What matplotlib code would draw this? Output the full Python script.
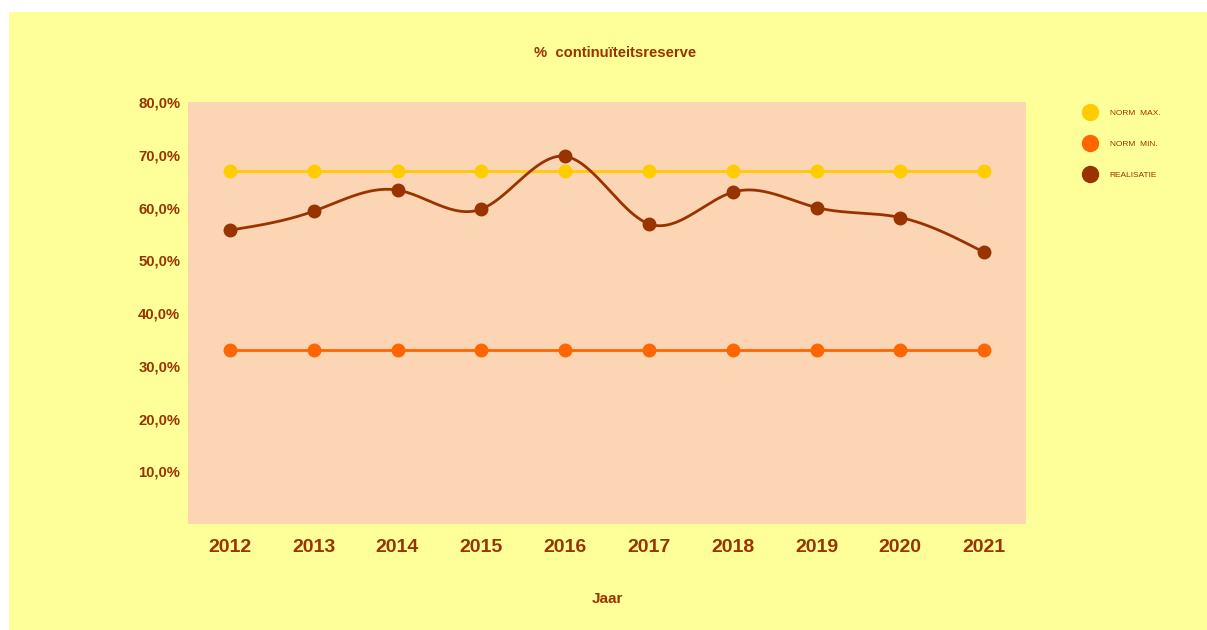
import numpy as np
import matplotlib
matplotlib.use("Agg")
import matplotlib.pyplot as plt
from matplotlib.lines import Line2D
from matplotlib.patches import Rectangle

plt.rcParams['font.family'] = ['Liberation Sans', 'DejaVu Sans']

# data
jaren = [2012, 2013, 2014, 2015, 2016, 2017, 2018, 2019, 2020, 2021]
norm_max = [67, 67, 67, 67, 67, 67, 67, 67, 67, 67]
norm_min = [33, 33, 33, 33, 33, 33, 33, 33, 33, 33]
realisatie = [55.7, 59.3, 63.3, 59.7, 69.7, 56.9, 62.9, 60.0, 58.1, 51.5]
y_ticks = [10, 20, 30, 40, 50, 60, 70, 80]

# kleuren
c_max = '#FFCC00'
c_min = '#FF6600'
c_real = '#993300'
c_tekst = '#993300'
c_bg = '#FFFF99'
c_plot = '#FCD5B5'


def natural_spline(x, y, n=400):
    # natuurlijke kubische spline door de punten (alleen voor het tekenen)
    x = np.asarray(x, dtype=float)
    y = np.asarray(y, dtype=float)
    m = len(x)
    h = np.diff(x)
    A = np.zeros((m, m))
    r = np.zeros(m)
    A[0, 0] = 1
    A[-1, -1] = 1
    for i in range(1, m - 1):
        A[i, i - 1] = h[i - 1]
        A[i, i] = 2 * (h[i - 1] + h[i])
        A[i, i + 1] = h[i]
        r[i] = 6 * ((y[i + 1] - y[i]) / h[i] - (y[i] - y[i - 1]) / h[i - 1])
    M = np.linalg.solve(A, r)
    xs = np.linspace(x[0], x[-1], n)
    idx = np.clip(np.searchsorted(x, xs) - 1, 0, m - 2)
    x0, x1 = x[idx], x[idx + 1]
    hh = x1 - x0
    a = (x1 - xs) / hh
    b = (xs - x0) / hh
    ys = (a * y[idx] + b * y[idx + 1]
          + ((a ** 3 - a) * M[idx] + (b ** 3 - b) * M[idx + 1]) * hh ** 2 / 6)
    return xs, ys


fig = plt.figure(figsize=(12.07, 6.30), dpi=100)
fig.patch.set_facecolor('white')
fig.patches.append(Rectangle((9 / 1207, 0), 1 - 9 / 1207, 1 - 12 / 630,
                             transform=fig.transFigure, facecolor=c_bg,
                             edgecolor='none', zorder=-10))

ax = fig.add_axes([188 / 1207, 1 - 524 / 630, (1026 - 188) / 1207, (524 - 102) / 630])
ax.set_facecolor(c_plot)
for s in ax.spines.values():
    s.set_visible(False)

ax.plot(jaren, norm_max, color=c_max, lw=2, marker='o', ms=9, zorder=3)
ax.plot(jaren, norm_min, color=c_min, lw=2, marker='o', ms=9, zorder=3)
xs, ys = natural_spline(jaren, realisatie)
ax.plot(xs, ys, color=c_real, lw=2, zorder=4)
ax.plot(jaren, realisatie, color=c_real, lw=0, marker='o', ms=9, zorder=5)

ax.set_xlim(2011.5, 2021.5)
ax.set_ylim(0, 80)
ax.set_xticks(jaren)
ax.set_xticklabels([str(j) for j in jaren], fontsize=14, fontweight='bold', color=c_tekst)
ax.set_yticks(y_ticks)
ax.set_yticklabels([f'{v},0%' for v in y_ticks], fontsize=10.7, fontweight='bold', color=c_tekst)
ax.tick_params(axis='both', length=0)
ax.tick_params(axis='x', pad=11)
ax.tick_params(axis='y', pad=5.5)

ax.set_xlabel('Jaar', fontsize=11, fontweight='bold', color=c_tekst, labelpad=26)
fig.text(615 / 1207, 1 - 53 / 630, '%  continuïteitsreserve', ha='center', va='center',
         fontsize=10.7, fontweight='bold', color=c_tekst)

handles = [Line2D([], [], color=c, marker='o', lw=0, ms=11.5) for c in (c_max, c_min, c_real)]
fig.legend(handles, ['NORM  MAX.', 'NORM  MIN.', 'REALISATIE'], loc='upper left',
           bbox_to_anchor=(1083 / 1207, 1 - 109 / 630), frameon=False, fontsize=6,
           labelcolor=c_tekst, labelspacing=2.8, handlelength=1.6, handletextpad=1.6,
           borderaxespad=0, borderpad=0)

fig.savefig('out.png', dpi=100, facecolor=fig.get_facecolor())
